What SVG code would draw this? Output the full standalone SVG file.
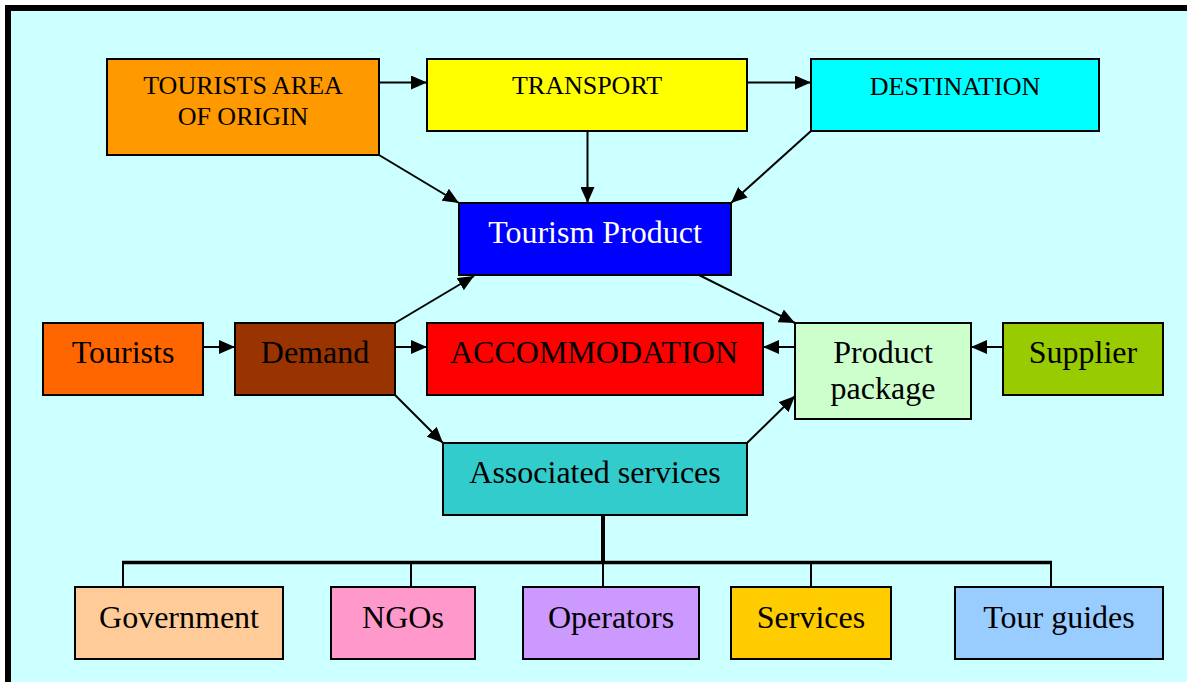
<svg xmlns="http://www.w3.org/2000/svg" width="1187" height="682" viewBox="0 0 1187 682">
<defs>
<marker id="ah" markerUnits="userSpaceOnUse" markerWidth="16" markerHeight="14" refX="16" refY="7" orient="auto">
<path d="M0,0 L16,7 L0,14 z" fill="#000"/>
</marker>
<style>
.box{stroke:#000;stroke-width:2}
.t{font-family:"Liberation Serif","Times New Roman",serif;fill:#000;text-anchor:middle}
.s26{font-size:26px}
.s32{font-size:32px}
.arr{stroke:#000;stroke-width:2;fill:none;marker-end:url(#ah)}
.ln{stroke:#000;fill:none}
</style>
</defs>
<rect x="0" y="0" width="1187" height="682" fill="#fff"/>
<rect x="8" y="8" width="1200" height="700" fill="#CCFFFF" stroke="#000" stroke-width="6"/>

<g id="connectors">
<line class="arr" x1="379" y1="82.5" x2="427" y2="82.5"/>
<line class="arr" x1="747" y1="82.5" x2="811" y2="82.5"/>
<line class="arr" x1="379" y1="155" x2="459" y2="203"/>
<line class="arr" x1="587.5" y1="131" x2="587.5" y2="203"/>
<line class="arr" x1="811" y1="131" x2="731" y2="203"/>
<line class="arr" x1="395" y1="323" x2="474" y2="276"/>
<line class="arr" x1="699" y1="275" x2="795" y2="323"/>
<line class="arr" x1="203" y1="347" x2="235" y2="347"/>
<line class="arr" x1="395" y1="347" x2="427" y2="347"/>
<line class="arr" x1="795" y1="347" x2="763" y2="347"/>
<line class="arr" x1="1003" y1="347" x2="971" y2="347"/>
<line class="arr" x1="395" y1="395" x2="443" y2="443"/>
<line class="arr" x1="747" y1="443" x2="795" y2="396"/>
<line class="ln" stroke-width="4" x1="603" y1="515" x2="603" y2="563"/>
<line class="ln" stroke-width="3.5" x1="122" y1="562.5" x2="1052" y2="562.5"/>
<line class="ln" stroke-width="2" x1="123" y1="562" x2="123" y2="587"/>
<line class="ln" stroke-width="2" x1="411" y1="562" x2="411" y2="587"/>
<line class="ln" stroke-width="2" x1="603" y1="562" x2="603" y2="587"/>
<line class="ln" stroke-width="2" x1="811" y1="562" x2="811" y2="587"/>
<line class="ln" stroke-width="2" x1="1051" y1="562" x2="1051" y2="587"/>
</g>

<g id="origin"><rect class="box" x="107" y="59" width="272" height="96" fill="#FF9900"/>
<text class="t s26" x="243" y="94">TOURISTS AREA</text><text class="t s26" x="243" y="125">OF ORIGIN</text></g>
<g id="transport"><rect class="box" x="427" y="59" width="320" height="72" fill="#FFFF00"/>
<text class="t s26" x="587" y="94">TRANSPORT</text></g>
<g id="destination"><rect class="box" x="811" y="59" width="288" height="72" fill="#00FFFF"/>
<text class="t s26" x="955" y="95">DESTINATION</text></g>
<g id="product"><rect class="box" x="459" y="203" width="272" height="72" fill="#0000FF"/>
<text class="t s32" x="595" y="243" fill="#fff" style="fill:#fff">Tourism Product</text></g>
<g id="tourists"><rect class="box" x="43" y="323" width="160" height="72" fill="#FF6600"/>
<text class="t s32" x="123" y="363">Tourists</text></g>
<g id="demand"><rect class="box" x="235" y="323" width="160" height="72" fill="#993300"/>
<text class="t s32" x="315" y="363">Demand</text></g>
<g id="accommodation"><rect class="box" x="427" y="323" width="336" height="72" fill="#FF0000"/>
<text class="t s32" x="594" y="363">ACCOMMODATION</text></g>
<g id="package"><rect class="box" x="795" y="323" width="176" height="96" fill="#CCFFCC"/>
<text class="t s32" x="883" y="363">Product</text><text class="t s32" x="883" y="399">package</text></g>
<g id="supplier"><rect class="box" x="1003" y="323" width="160" height="72" fill="#99CC00"/>
<text class="t s32" x="1083" y="363">Supplier</text></g>
<g id="associated"><rect class="box" x="443" y="443" width="304" height="72" fill="#33CCCC"/>
<text class="t s32" x="595" y="483">Associated services</text></g>
<g id="government"><rect class="box" x="75" y="587" width="208" height="72" fill="#FFCC99"/>
<text class="t s32" x="179" y="628">Government</text></g>
<g id="ngos"><rect class="box" x="331" y="587" width="144" height="72" fill="#FF99CC"/>
<text class="t s32" x="403" y="628">NGOs</text></g>
<g id="operators"><rect class="box" x="523" y="587" width="176" height="72" fill="#CC99FF"/>
<text class="t s32" x="611" y="628">Operators</text></g>
<g id="services"><rect class="box" x="731" y="587" width="160" height="72" fill="#FFCC00"/>
<text class="t s32" x="811" y="628">Services</text></g>
<g id="tourguides"><rect class="box" x="955" y="587" width="208" height="72" fill="#99CCFF"/>
<text class="t s32" x="1059" y="628">Tour guides</text></g>
</svg>
